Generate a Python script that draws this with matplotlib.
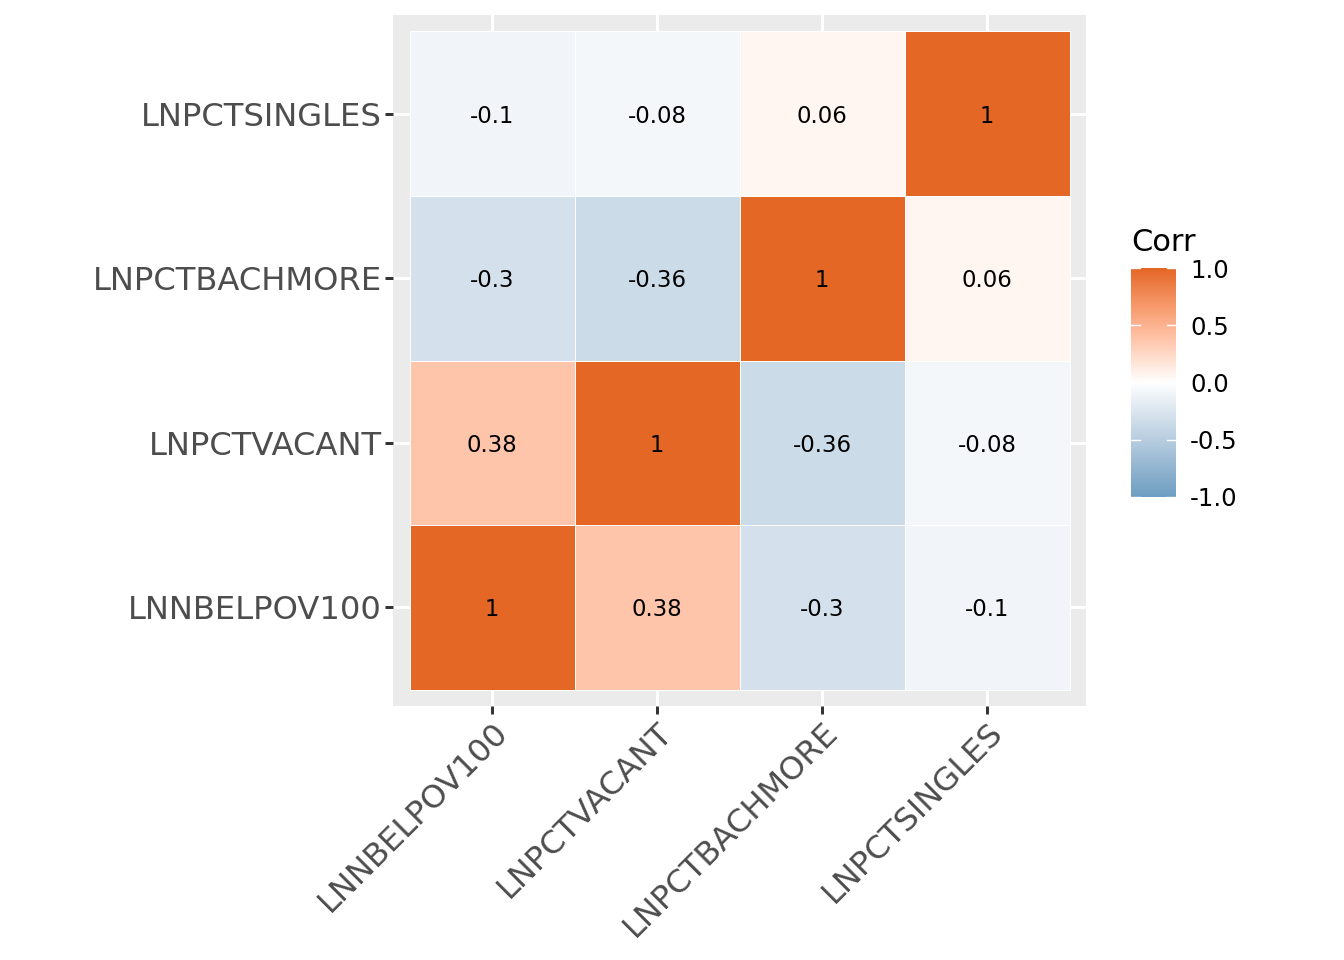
import numpy as np
import matplotlib
matplotlib.use('Agg')
import matplotlib.pyplot as plt
from matplotlib.colors import ListedColormap, Normalize, to_rgb

# variables in plotting order (bottom->top on y, left->right on x)
variables = ['LNNBELPOV100', 'LNPCTVACANT', 'LNPCTBACHMORE', 'LNPCTSINGLES']
corr = np.array([
    [1.00, 0.38, -0.30, -0.10],
    [0.38, 1.00, -0.36, -0.08],
    [-0.30, -0.36, 1.00, 0.06],
    [-0.10, -0.08, 0.06, 1.00],
])
cbar_ticks = [-1.0, -0.5, 0.0, 0.5, 1.0]

low, mid, high = '#6D9EC1', '#FFFFFF', '#E46726'


# ggplot interpolates gradients in Lab space
def srgb_to_lab(c):
    c = np.asarray(c, dtype=float)
    lin = np.where(c <= 0.04045, c / 12.92, ((c + 0.055) / 1.055) ** 2.4)
    m = np.array([[0.4124, 0.3576, 0.1805],
                  [0.2126, 0.7152, 0.0722],
                  [0.0193, 0.1192, 0.9505]])
    xyz = m @ lin / np.array([0.95047, 1.0, 1.08883])
    f = np.where(xyz > 0.008856, np.cbrt(xyz), 7.787 * xyz + 16 / 116)
    return np.array([116 * f[1] - 16, 500 * (f[0] - f[1]), 200 * (f[1] - f[2])])


def lab_to_srgb(lab):
    L, a, b = lab
    fy = (L + 16) / 116
    fx = fy + a / 500
    fz = fy - b / 200
    f = np.array([fx, fy, fz])
    xyz = np.where(f ** 3 > 0.008856, f ** 3, (f - 16 / 116) / 7.787)
    xyz = xyz * np.array([0.95047, 1.0, 1.08883])
    m = np.array([[3.2406, -1.5372, -0.4986],
                  [-0.9689, 1.8758, 0.0415],
                  [0.0557, -0.2040, 1.0570]])
    lin = m @ xyz
    c = np.where(lin <= 0.0031308, 12.92 * lin, 1.055 * np.clip(lin, 0, None) ** (1 / 2.4) - 0.055)
    return np.clip(c, 0, 1)


lab_low, lab_mid, lab_high = (srgb_to_lab(to_rgb(c)) for c in (low, mid, high))
cols = []
for t in np.linspace(-1, 1, 256):
    if t < 0:
        lab = lab_mid + (lab_low - lab_mid) * (-t)
    else:
        lab = lab_mid + (lab_high - lab_mid) * t
    cols.append(lab_to_srgb(lab))
cmap = ListedColormap(cols)
norm = Normalize(-1, 1)

fig = plt.figure(figsize=(6.72, 4.8), dpi=200)
ax = fig.add_axes([393 / 1344, 1 - 706 / 960, 693 / 1344, 691 / 960])
ax.set_facecolor('#EBEBEB')

n = len(variables)
edges = np.arange(n + 1) - 0.5
ax.pcolormesh(edges, edges, corr, cmap=cmap, norm=norm,
              edgecolors='white', linewidth=0.3, zorder=2)

for i in range(n):
    for j in range(n):
        ax.text(j, i, f'{corr[i, j]:g}', ha='center', va='center_baseline',
                fontsize=8.2, color='black', zorder=3)

ax.set_xlim(-0.6, n - 0.4)
ax.set_ylim(-0.6, n - 0.4)
ax.set_xticks(range(n))
ax.set_yticks(range(n))
ax.set_xticklabels(variables, rotation=45, ha='right', va='top',
                   rotation_mode='anchor')
ax.set_yticklabels(variables)
ax.tick_params(length=2.75, width=1.07, color='#333333', labelcolor='#4D4D4D',
               labelsize=11.6, pad=1.2)
ax.grid(True, color='white', linewidth=1.07, zorder=1)
ax.set_axisbelow(True)
for s in ax.spines.values():
    s.set_visible(False)

# colour bar legend
cax = fig.add_axes([1131 / 1344, 1 - 497 / 960, 45 / 1344, 229 / 960])
grad = np.linspace(-1, 1, 300).reshape(-1, 1)
cax.imshow(grad, cmap=cmap, norm=norm, aspect='auto', origin='lower',
           extent=[0, 1, -1, 1])
cax.set_xlim(0, 1)
cax.set_ylim(-1, 1)
cax.set_xticks([])
cax.yaxis.tick_right()
cax.set_yticks(cbar_ticks)
cax.set_yticklabels([f'{v:.1f}' for v in cbar_ticks])
cax.tick_params(axis='y', length=0, labelsize=8.8, pad=5, labelcolor='black')
for v in cbar_ticks:
    cax.plot([0, 0.2], [v, v], color='white', linewidth=0.5)
    cax.plot([0.8, 1], [v, v], color='white', linewidth=0.5)
for s in cax.spines.values():
    s.set_visible(False)
cax.text(0, 1.05, 'Corr', transform=cax.transAxes, ha='left', va='bottom',
         fontsize=11, color='black')

fig.savefig('out.png', dpi=200)
